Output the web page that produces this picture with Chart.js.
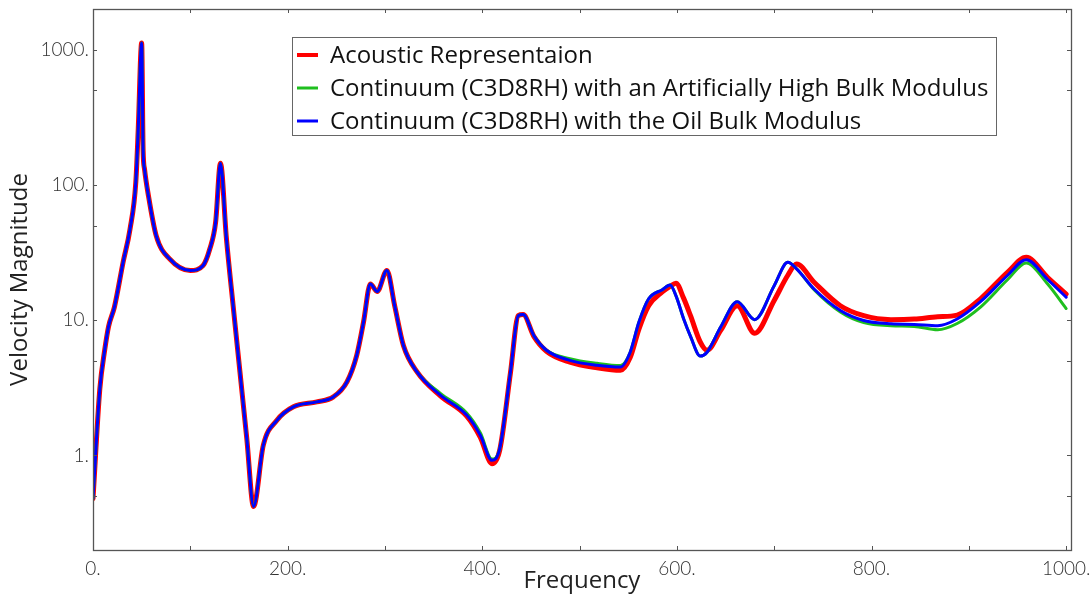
<!DOCTYPE html>
<html lang="en">
<head>
  <meta charset="UTF-8">
  <script src="https://cdn.jsdelivr.net/npm/chart.js"></script>
  <title>Velocity Magnitude</title>
  <style>
    body { margin: 0; background: #fff; }
    #wrap { width: 1092px; height: 596px; }
  </style>
</head>
<body>
<div id="wrap">
  <canvas id="velChart" width="1092" height="596"></canvas>
</div>
<script>
  // frequency grid shared by all three curves
  const freqs = [0, 7, 12, 16, 22, 31, 38, 44, 46.5, 50,
    51.5, 53, 57, 65, 79, 100, 113, 120, 126, 131,
    137, 144, 151, 158, 165, 175, 189, 206, 230, 247,
    261, 271, 278, 285, 292, 302, 310, 319, 333, 357,
    384, 398, 410, 418, 429, 437, 442, 453, 466, 490,
    518, 542, 552, 561, 571, 585, 593, 599, 607, 614,
    624, 631, 645, 662, 680, 700, 714, 723, 741, 768,
    792, 820, 844, 868, 888, 912, 940, 959, 981, 1000];

  const acoustic = [0.48, 3.1, 6.0, 9.0, 12.5, 27, 47, 105, 260, 1120,
    180, 130, 83, 42, 28.3, 23.3, 25.3, 33.6, 53, 145,
    41, 12.8, 4.15, 1.34, 0.42, 1.19, 1.82, 2.29, 2.49, 2.71,
    3.5, 5.5, 9.7, 18.5, 16.3, 23.3, 12.8, 6.5, 4.15, 2.76,
    1.95, 1.36, 0.87, 1.1, 4.1, 10.8, 11, 7.6, 5.9, 4.9,
    4.45, 4.26, 5.3, 8.6, 12.8, 16.2, 17.8, 18.8, 14.5, 10.8,
    6.9, 6.0, 8.4, 12.8, 8.0, 14, 21.5, 26, 19.1, 12.8,
    10.8, 10.1, 10.2, 10.6, 10.9, 14.4, 22.7, 29.2, 20.7, 15.6];

  const highBulk = [0.48, 3.1, 6.0, 9.0, 12.5, 27, 47, 105, 260, 1120,
    180, 130, 83, 42, 28.3, 23.3, 25.3, 33.6, 53, 145,
    41, 12.8, 4.15, 1.34, 0.42, 1.19, 1.82, 2.29, 2.49, 2.71,
    3.5, 5.5, 9.7, 18.5, 16.3, 23.3, 12.8, 6.5, 4.15, 2.88,
    2.06, 1.47, 0.94, 1.13, 4.15, 10.8, 11, 7.7, 6.0, 5.2,
    4.8, 4.62, 5.8, 9.7, 14.4, 16.8, 18.2, 15.2, 10.2, 7.6,
    5.43, 5.8, 8.9, 13.7, 10.1, 18, 26.8, 24, 16.8, 11.5,
    9.6, 9.1, 9.0, 8.5, 9.45, 12.5, 20, 26.5, 18.5, 12.2];

  const oilBulk = [0.48, 3.1, 6.0, 9.0, 12.5, 27, 47, 105, 260, 1120,
    180, 130, 83, 42, 28.3, 23.3, 25.3, 33.6, 53, 145,
    41, 12.8, 4.15, 1.34, 0.42, 1.19, 1.82, 2.29, 2.49, 2.71,
    3.5, 5.5, 9.7, 18.5, 16.3, 23.3, 12.8, 6.5, 4.15, 2.79,
    1.99, 1.41, 0.92, 1.13, 4.15, 10.8, 11, 7.7, 6.0, 5.05,
    4.64, 4.5, 5.8, 9.7, 14.4, 16.8, 18.2, 15.2, 10.2, 7.6,
    5.43, 5.8, 8.9, 13.7, 10.1, 18, 26.8, 24, 17, 11.8,
    9.96, 9.4, 9.3, 9.1, 10.2, 13.7, 21.5, 28, 20, 14.8];

  const xMajor = [0, 200, 400, 600, 800, 1000];
  const xMinor = [100, 300, 500, 700, 900];
  const yMajor = [1, 10, 100, 1000];
  const yMinor = [0.5, 5, 50, 500];

  const tickFont = { family: 'Lato, "Open Sans", sans-serif', size: 19, weight: 300 };
  const titleFont = { family: '"Open Sans", sans-serif', size: 24 };

  function pts(vals) {
    return freqs.map((f, i) => ({ x: f, y: vals[i] }));
  }

  // frame + inward tick marks on all four sides
  const framePlugin = {
    id: 'frame',
    afterDatasetsDraw(chart) {
      const { ctx, chartArea: a, scales: { x, y } } = chart;
      ctx.save();
      ctx.strokeStyle = '#555';
      ctx.lineWidth = 1;
      const len = 4;
      ctx.beginPath();
      xMajor.concat(xMinor).forEach(v => {
        const px = Math.round(x.getPixelForValue(v)) + 0.5;
        ctx.moveTo(px, a.bottom); ctx.lineTo(px, a.bottom - len);
        ctx.moveTo(px, a.top); ctx.lineTo(px, a.top + len);
      });
      yMajor.concat(yMinor).forEach(v => {
        const py = Math.round(y.getPixelForValue(v)) + 0.5;
        ctx.moveTo(a.left, py); ctx.lineTo(a.left + len, py);
        ctx.moveTo(a.right, py); ctx.lineTo(a.right - len, py);
      });
      ctx.stroke();
      ctx.lineWidth = 1.3;
      ctx.strokeRect(Math.round(a.left) + 0.5, Math.round(a.top) + 0.5,
        Math.round(a.right - a.left), Math.round(a.bottom - a.top));
      ctx.restore();
    }
  };

  // boxed legend inside the plot
  const legendPlugin = {
    id: 'boxLegend',
    afterDraw(chart) {
      const ctx = chart.ctx;
      const box = { x: 292, y: 37, w: 704, h: 98 };
      ctx.save();
      ctx.fillStyle = '#fff';
      ctx.fillRect(box.x, box.y, box.w, box.h);
      ctx.strokeStyle = '#666';
      ctx.lineWidth = 1;
      ctx.strokeRect(box.x + 0.5, box.y + 0.5, box.w, box.h);
      ctx.font = '24px "Open Sans", sans-serif';
      ctx.textBaseline = 'middle';
      ctx.fillStyle = '#111';
      chart.data.datasets.forEach((ds, i) => {
        const cy = 55 + i * 33;
        ctx.strokeStyle = ds.borderColor;
        ctx.lineWidth = i === 0 ? 4 : 3;
        ctx.beginPath();
        ctx.moveTo(297, cy); ctx.lineTo(318, cy);
        ctx.stroke();
        ctx.fillText(ds.label, 330, cy + 1);
      });
      ctx.restore();
    }
  };

  new Chart(document.getElementById('velChart'), {
    type: 'line',
    data: {
      datasets: [
        { label: 'Acoustic Representaion', data: pts(acoustic), borderColor: '#ff0000', borderWidth: 5, order: 3 },
        { label: 'Continuum (C3D8RH) with an Artificially High Bulk Modulus', data: pts(highBulk), borderColor: '#1fbf1f', borderWidth: 3, order: 2 },
        { label: 'Continuum (C3D8RH) with the Oil Bulk Modulus', data: pts(oilBulk), borderColor: '#0000ff', borderWidth: 3, order: 1 }
      ]
    },
    options: {
      responsive: false,
      animation: false,
      events: [],
      layout: { padding: { top: 9, right: 21, left: 0, bottom: 0 } },
      elements: {
        point: { radius: 0 },
        line: { cubicInterpolationMode: 'monotone', borderCapStyle: 'round', borderJoinStyle: 'round' }
      },
      plugins: { legend: { display: false }, tooltip: { enabled: false } },
      scales: {
        x: {
          type: 'linear',
          min: 0,
          max: 1005,
          afterBuildTicks: s => { s.ticks = xMajor.map(v => ({ value: v })); },
          afterFit: s => { s.height = 46; s.paddingLeft = 0; s.paddingRight = 0; },
          grid: { display: false, drawTicks: false },
          border: { display: false },
          ticks: { callback: v => v + '.', font: tickFont, color: '#333', padding: 7, maxRotation: 0 },
          title: { display: true, text: 'Frequency', font: titleFont, color: '#222', padding: { top: 0, bottom: 0 } }
        },
        y: {
          type: 'logarithmic',
          min: 0.2,
          max: 2000,
          afterBuildTicks: s => { s.ticks = yMajor.map(v => ({ value: v })); },
          afterFit: s => { s.width = 93; s.paddingTop = 0; s.paddingBottom = 0; },
          grid: { display: false, drawTicks: false },
          border: { display: false },
          ticks: { callback: v => v + '.', font: tickFont, color: '#333', padding: 4 },
          title: { display: true, text: 'Velocity Magnitude', font: titleFont, color: '#222', padding: { top: 6, bottom: 0 } }
        }
      }
    },
    plugins: [framePlugin, legendPlugin]
  });
</script>
</body>
</html>
